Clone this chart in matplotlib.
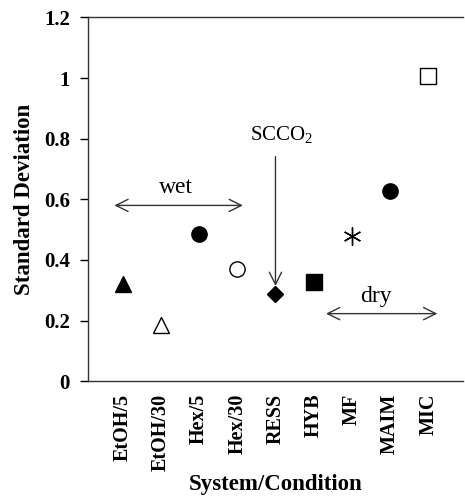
import numpy as np
import matplotlib
matplotlib.use("Agg")
import matplotlib.pyplot as plt

plt.rcParams['font.family'] = ['Liberation Serif', 'DejaVu Serif']
plt.rcParams['mathtext.fontset'] = 'custom'
plt.rcParams['mathtext.rm'] = 'Liberation Serif'

categories = ["EtOH/5", "EtOH/30", "Hex/5", "Hex/30", "RESS", "HYB", "MF", "MAIM", "MIC"]
std_dev = [0.32, 0.185, 0.485, 0.37, 0.287, 0.327, 0.48, 0.627, 1.007]
markers = ["^", "^", "o", "o", "D", "s", (6, 2, 0), "o", "s"]
filled = [True, False, True, False, True, True, False, True, False]
sizes = [12, 12, 11, 11, 8.5, 11, 13, 11, 11.5]

fig = plt.figure(figsize=(4.65, 4.99), dpi=100)
ax = fig.add_axes([0.189, 0.236, 0.806, 0.729])

x = np.arange(1, len(categories) + 1)
for xi, yi, m, f, s in zip(x, std_dev, markers, filled, sizes):
    ax.plot(xi, yi, marker=m, markersize=s, linestyle="none",
            markerfacecolor="black" if f else "white",
            markeredgecolor="black", markeredgewidth=1.0)

ax.set_xlim(0.09, 9.9)
ax.set_ylim(0, 1.2)
ax.set_yticks(np.arange(0, 1.21, 0.2))
ax.set_yticklabels(["0", "0.2", "0.4", "0.6", "0.8", "1", "1.2"],
                   fontsize=15, fontweight="bold")
ax.set_xticks(x)
ax.set_xticklabels(categories, rotation=90, fontsize=14.5, fontweight="bold")
ax.tick_params(axis="x", length=0, pad=9)
ax.set_xticks([5], minor=True)
ax.tick_params(axis="x", which="minor", length=6, direction="out")
ax.tick_params(axis="y", length=6, direction="out", width=1, pad=7)

ax.spines["right"].set_visible(False)
for s in ["left", "top", "bottom"]:
    ax.spines[s].set_linewidth(1.0)
    ax.spines[s].set_color("#333333")

ax.set_ylabel("Standard Deviation", fontsize=16.5, fontweight="bold", labelpad=6)
ax.set_xlabel("System/Condition", fontsize=16.5, fontweight="bold", labelpad=2)

arrow = dict(arrowstyle="<->", color="#333333", lw=1.0, mutation_scale=22)
ax.annotate("", xy=(0.71, 0.58), xytext=(4.22, 0.58), arrowprops=arrow)
ax.text(2.4, 0.605, "wet", fontsize=17, ha="center", va="bottom")

ax.annotate("", xy=(6.25, 0.223), xytext=(9.31, 0.223), arrowprops=arrow)
ax.text(7.62, 0.245, "dry", fontsize=17, ha="center", va="bottom")

ax.annotate("", xy=(5.0, 0.305), xytext=(5.0, 0.75),
            arrowprops=dict(arrowstyle="->", color="#333333", lw=1.0, mutation_scale=22))
ax.text(5.15, 0.775, "SCCO$_\\mathrm{2}$", fontsize=15, ha="center", va="bottom")

fig.savefig("out.png", dpi=100)
